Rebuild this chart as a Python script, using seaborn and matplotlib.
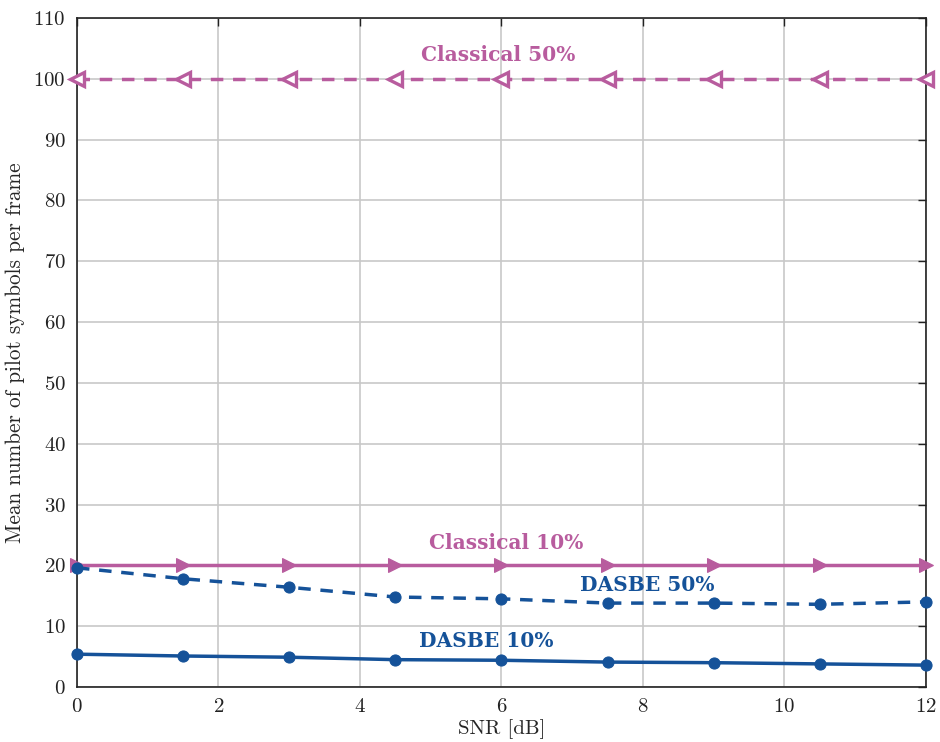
import numpy as np
import pandas as pd
import seaborn as sns
import matplotlib.pyplot as plt

snr = [0, 1.5, 3, 4.5, 6, 7.5, 9, 10.5, 12]
dasbe_10 = [5.4, 5.1, 4.9, 4.5, 4.4, 4.1, 4.0, 3.8, 3.6]
dasbe_50 = [19.6, 17.8, 16.4, 14.8, 14.5, 13.8, 13.8, 13.6, 14.0]
classical_10 = [20] * 9
classical_50 = [100] * 9

xticks = [0, 2, 4, 6, 8, 10, 12]
yticks = list(range(0, 111, 10))

pink = '#B85C9E'
blue = '#155299'

sns.set_style('white')
plt.rcParams['font.family'] = ['cmr10', 'DejaVu Serif']
plt.rcParams['axes.formatter.use_mathtext'] = True
plt.rcParams['mathtext.fontset'] = 'cm'

fig = plt.figure(figsize=(9.4, 7.42), dpi=100)
ax = fig.add_axes([0.0819, 0.0741, 0.9032, 0.9016])

dash = (0, (3.6, 2.8))
sns.lineplot(x=snr, y=classical_50, ax=ax, color=pink, linestyle=dash, linewidth=2.5,
             marker='<', markersize=10.5, markerfacecolor='white', markeredgecolor=pink,
             markeredgewidth=2.4, clip_on=False, zorder=3)
sns.lineplot(x=snr, y=classical_10, ax=ax, color=pink, linestyle='-', linewidth=2.5,
             marker='>', markersize=10.5, markerfacecolor=pink, markeredgecolor=pink,
             clip_on=False, zorder=3)
sns.lineplot(x=snr, y=dasbe_50, ax=ax, color=blue, linestyle=dash, linewidth=2.5,
             marker='o', markersize=8, markeredgecolor=blue, clip_on=False, zorder=4)
sns.lineplot(x=snr, y=dasbe_10, ax=ax, color=blue, linestyle='-', linewidth=2.5,
             marker='o', markersize=8, markeredgecolor=blue, clip_on=False, zorder=4)

ax.set_xlim(0, 12)
ax.set_ylim(0, 110)
ax.set_xticks(xticks)
ax.set_yticks(yticks)
ax.grid(True, color='#c8c8c8', linewidth=1.2)
ax.set_axisbelow(True)
for s in ax.spines.values():
    s.set_color('#222222')
    s.set_linewidth(1.2)
ax.tick_params(direction='in', length=6, width=1, top=True, right=True,
               labelsize=15, colors='#222222', pad=8)
ax.set_xlabel('SNR [dB]', fontsize=15, labelpad=2)
ax.set_ylabel('Mean number of pilot symbols per frame', fontsize=15.3, labelpad=6)

lbl = dict(fontsize=14.5, fontfamily='DejaVu Serif', fontweight='bold', ha='center', va='center')
ax.text(5.95, 104, 'Classical 50%', color=pink, **lbl)
ax.text(6.06, 23.6, 'Classical 10%', color=pink, **lbl)
ax.text(8.06, 16.8, 'DASBE 50%', color=blue, **lbl)
ax.text(5.78, 7.6, 'DASBE 10%', color=blue, **lbl)

fig.savefig('out.png', dpi=100)
